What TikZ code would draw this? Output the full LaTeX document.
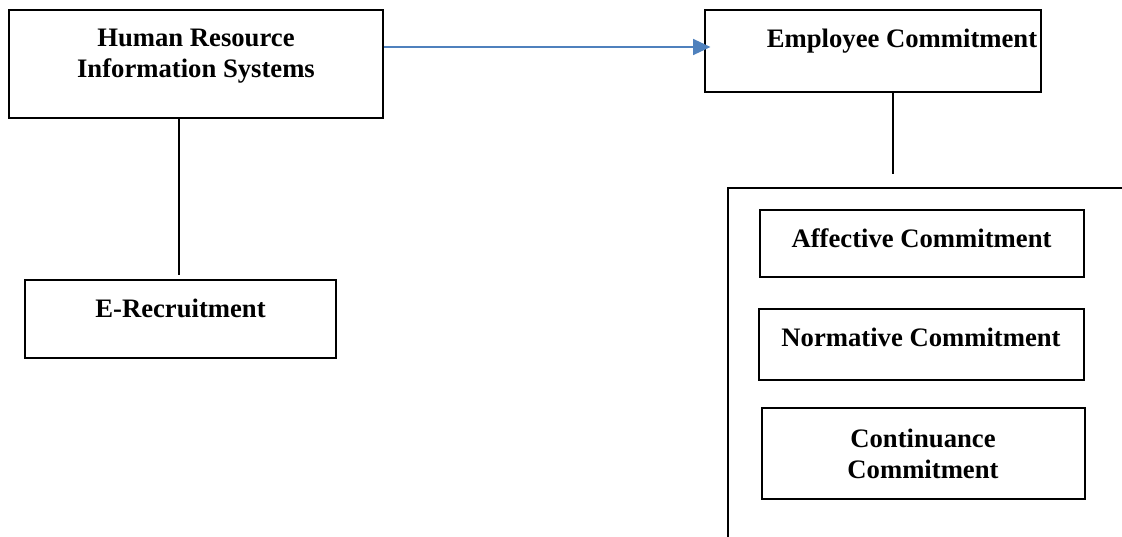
\documentclass[tikz,border=0pt]{standalone}
\usepackage{fontspec}
\setmainfont{Liberation Serif}
\usetikzlibrary{arrows.meta, fit, positioning}
\definecolor{arrowblue}{HTML}{4F81BD}

\begin{document}
\begin{tikzpicture}[x=0.75pt, y=-0.75pt,
    box/.style={draw, line width=1.8pt, inner sep=0pt},
    lbl/.style={font=\bfseries\fontsize{20}{23}\selectfont, align=center, inner sep=0pt},
    link/.style={line width=1.8pt},
    flow/.style={draw=arrowblue, line width=1.1pt, -{Triangle[length=13pt, width=12pt]}}]

    \useasboundingbox (0,0) rectangle (1122,536);

    % HRIS side
    \node[box, fit={(9,10) (383,118)}] (hris) {};
    \node[lbl, anchor=north] (hristxt) at (196,29) {Human Resource\\Information Systems};
    \node[box, fit={(25,280) (336,358)}] (erec) {};
    \node[lbl, anchor=base] (erectxt) at (180.5,317) {E-Recruitment};

    % Commitment side
    \node[box, fit={(705,10) (1041,92)}] (emp) {};
    \node[lbl, anchor=base] (emptxt) at (902,47) {Employee Commitment};
    \node[box, fit={(760,210) (1084,277)}] (aff) {};
    \node[lbl, anchor=base] (afftxt) at (921.5,247) {Affective Commitment};
    \node[box, fit={(759,309) (1084,380)}] (norm) {};
    \node[lbl, anchor=base] (normtxt) at (921,346) {Normative Commitment};
    \node[box, fit={(762,408) (1085,499)}] (cont) {};
    \node[lbl, anchor=north] (conttxt) at (923,429) {Continuance\\Commitment};

    % Group frame (runs off the page)
    \coordinate (grpcorner) at (728,188);
    \coordinate (grpright) at (1130,188);
    \coordinate (grpbottom) at (728,545);
    \draw[link] (grpright) -- (grpcorner) -- (grpbottom);

    % Connectors
    \draw[flow, shorten >=-5pt] ([yshift=12.75pt]hris.east) -- ([yshift=12.75pt]hris.east -| emp.west);
    \coordinate (hrisfoot) at (179,275);
    \draw[link] (hris.south -| hrisfoot) -- (hrisfoot);
    \coordinate (empfoot) at (893,174);
    \draw[link] (emp.south -| empfoot) -- (empfoot);
\end{tikzpicture}
\end{document}
